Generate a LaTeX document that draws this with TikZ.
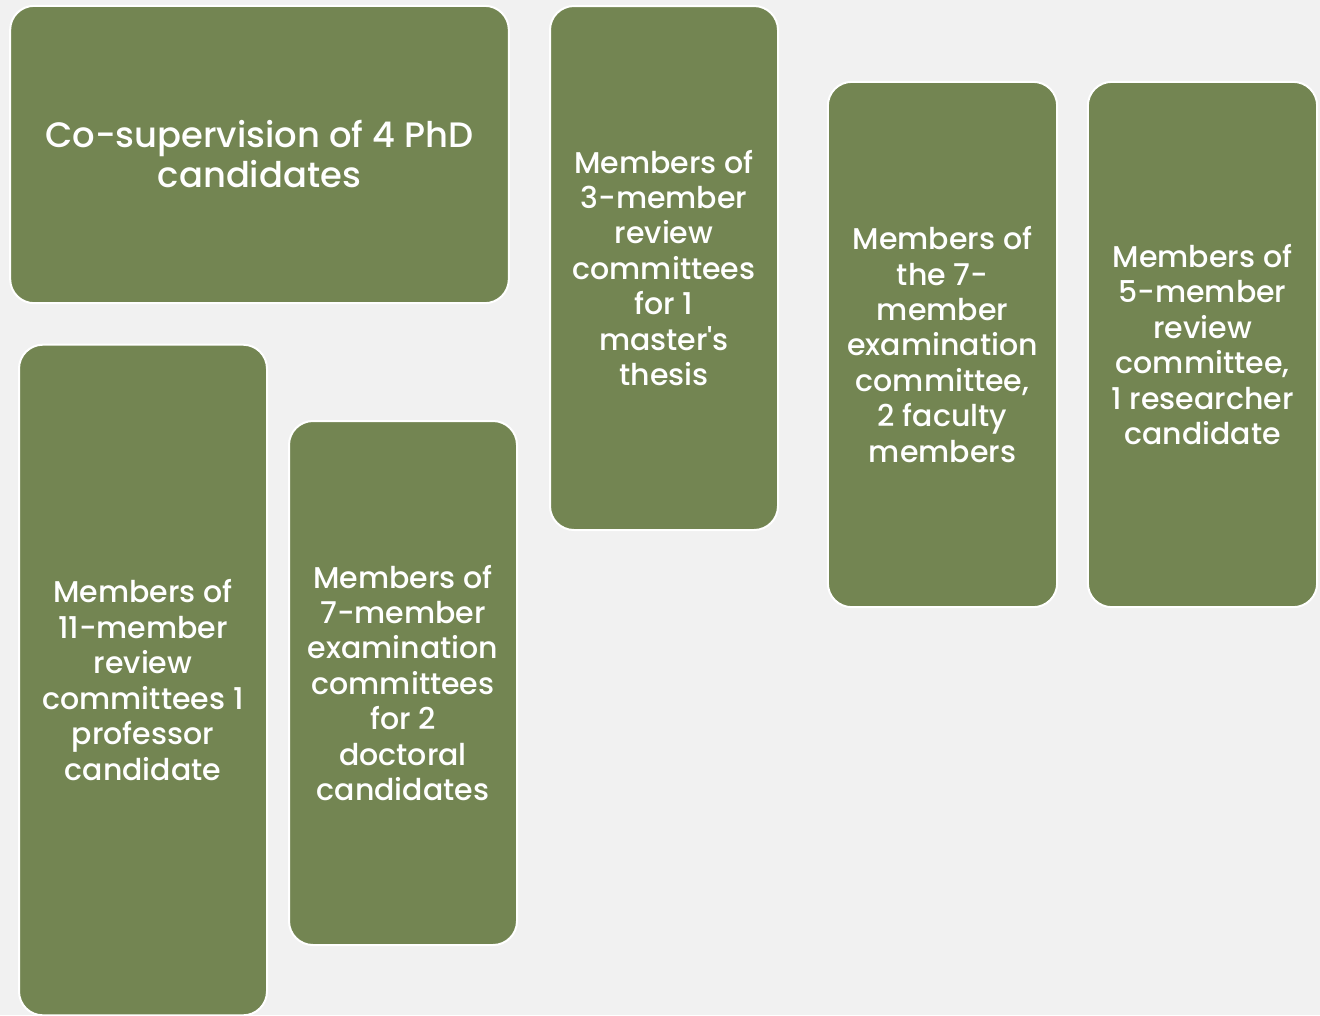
\documentclass[tikz,border=0pt]{standalone}
\usepackage{fontspec}
\setmainfont{Poppins}
\newfontfamily\boxfont{Poppins}[UprightFont=* Medium]
\usepackage{tikz}
\definecolor{olivebox}{HTML}{738552}
\definecolor{bggray}{HTML}{F1F1F1}
\newcommand{\apos}{{\char"0027}}

\begin{document}
\begin{tikzpicture}[x=.75pt, y=-.75pt,
  box/.style={draw=white, line width=1.5pt, fill=olivebox, rounded corners=18pt,
    text=white, align=center, inner sep=0pt,
    font=\boxfont\fontsize{22.5}{26.6}\selectfont},
  bigbox/.style={box, font=\boxfont\fontsize{26.5}{30}\selectfont}]
\fill[bggray] (0,0) rectangle (1320,1015);
\clip (0,0) rectangle (1320,1015);
\useasboundingbox (0,0) rectangle (1320,1015);
\node[bigbox, minimum width=374pt, minimum height=223pt] (cosup) at (259.5,154.5) {Co-supervision of 4 PhD\\candidates};
\node[box, minimum width=171pt, minimum height=393pt] (master) at (664,268) {Members of\\3-member\\review\\committees\\for 1\\master\apos s\\thesis};
\node[box, minimum width=172pt, minimum height=394pt] (facexam) at (942.5,344.5) {Members of\\the 7-\\member\\examination\\committee,\\2 faculty\\members};
\node[box, minimum width=172pt, minimum height=394pt] (research) at (1202.5,344.5) {Members of\\5-member\\review\\committee,\\1 researcher\\candidate};
\node[box, minimum width=186pt, minimum height=503pt] (professor) at (143,680) {Members of\\11-member\\review\\committees 1\\professor\\candidate};
\node[box, minimum width=171pt, minimum height=393pt] (doctoral) at (403,683) {Members of\\7-member\\examination\\committees\\for 2\\doctoral\\candidates};
\end{tikzpicture}
\end{document}
